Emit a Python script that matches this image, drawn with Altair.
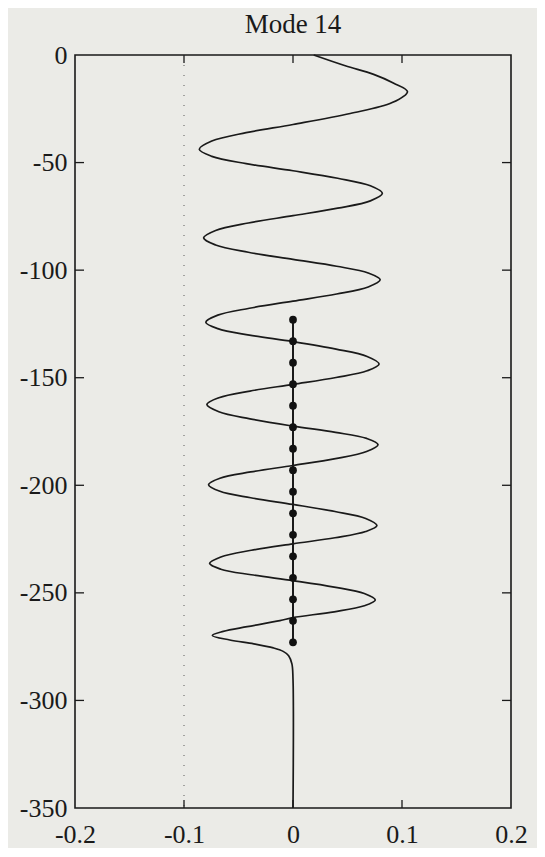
import altair as alt
import pandas as pd

# ---- data ----
title_text = "Mode 14"

curve_depth = [
    0.0, -5.0, -9.0, -13.0, -17.0,
    -22.1, -27.2, -32.3, -36.1, -40.0, -43.8,
    -47.1, -50.5, -53.8, -57.3, -60.8, -64.3,
    -67.8, -71.2, -74.7, -78.1, -81.6, -85.0,
    -88.3, -91.7, -95.0, -98.2, -101.3, -104.5,
    -107.8, -111.1, -114.4, -117.7, -120.9, -124.2,
    -127.2, -130.2, -133.2, -136.7, -140.1, -143.6,
    -146.8, -149.9, -153.1, -156.2, -159.3, -162.4,
    -165.8, -169.1, -172.5, -175.4, -178.2, -181.1,
    -184.3, -187.6, -190.8, -193.8, -196.7, -199.7,
    -202.8, -205.8, -208.9, -212.2, -215.4, -218.7,
    -221.5, -224.4, -227.2, -230.2, -233.3, -236.3,
    -239.0, -241.6, -244.3, -247.3, -250.3, -253.3,
    -256.0, -258.8, -261.5, -262.9, -265.7, -267.9, -269.8,
    -271.9, -273.7, -275.6, -277.2, -279.2, -283.0, -290.0, -350.0,
]
curve_value = [
    0.019, 0.048, 0.074, 0.092, 0.105,
    0.091, 0.0525, 0.0, -0.043, -0.0745, -0.086,
    -0.0745, -0.043, 0.0, 0.041, 0.071, 0.082,
    0.071, 0.041, 0.0, -0.041, -0.071, -0.082,
    -0.071, -0.041, 0.0, 0.040, 0.069, 0.080,
    0.069, 0.040, 0.0, -0.040, -0.069, -0.080,
    -0.069, -0.040, 0.0, 0.0395, 0.068, 0.079,
    0.068, 0.0395, 0.0, -0.0395, -0.068, -0.079,
    -0.068, -0.0395, 0.0, 0.039, 0.0675, 0.078,
    0.0675, 0.039, 0.0, -0.0388, -0.067, -0.0775,
    -0.067, -0.0388, 0.0, 0.0385, 0.0667, 0.077,
    0.0667, 0.0385, 0.0, -0.0383, -0.0662, -0.0765,
    -0.0662, -0.0383, 0.0, 0.0378, 0.0654, 0.0755,
    0.0654, 0.0378, 0.0, -0.012, -0.042, -0.064, -0.074,
    -0.058, -0.036, -0.018, -0.009, -0.004, -0.001, 0.0, 0.0,
]

dot_depth = [-123, -133, -143, -153, -163, -173, -183, -193,
             -203, -213, -223, -233, -243, -253, -263, -273]
dot_value = [0.0] * len(dot_depth)

ref_line_x = [-0.1]
x_ticks = [-0.2, -0.1, 0.0, 0.1, 0.2]
x_inner_ticks = [-0.1, 0.0, 0.1]
y_ticks = [0, -50, -100, -150, -200, -250, -300, -350]
y_inner_ticks = [-50, -100, -150, -200, -250, -300]

# ---- tables ----
curve_df = pd.DataFrame({"i": list(range(len(curve_depth))),
                         "depth": curve_depth, "value": curve_value})
dots_df = pd.DataFrame({"i": list(range(len(dot_depth))),
                        "depth": dot_depth, "value": dot_value})
ref_df = pd.DataFrame({"value": ref_line_x})
xt_df = pd.DataFrame({"value": x_inner_ticks})
yt_df = pd.DataFrame({"depth": y_inner_ticks})
title_df = pd.DataFrame({"t": [title_text]})

W, H = 436, 753
FONT = "Liberation Serif"
INK = "#1a1a1a"

xscale = alt.Scale(domain=[-0.2, 0.2], nice=False, zero=False)
yscale = alt.Scale(domain=[-350, 0], nice=False, zero=False)

x_axis = alt.Axis(values=x_ticks, title=None, grid=False, ticks=False, domain=False,
                  labelFont=FONT, labelFontSize=26, labelColor=INK,
                  labelPadding=13, labelFlush=False, labelOverlap=False,
                  labelExpr="toString(datum.value)")
y_axis = alt.Axis(values=y_ticks, title=None, grid=False, ticks=False, domain=False,
                  labelFont=FONT, labelFontSize=26, labelColor=INK,
                  labelPadding=8, labelFlush=False, labelOverlap=False,
                  labelExpr="toString(datum.value)")

ref = alt.Chart(ref_df).mark_rule(color="#666666", strokeWidth=1.1,
                                  strokeDash=[1, 9]).encode(
    x=alt.X("value:Q", scale=xscale, axis=x_axis),
    y=alt.value(0), y2=alt.value(H))

curve = alt.Chart(curve_df).mark_line(color=INK, strokeWidth=1.7,
                                      interpolate="catmull-rom").encode(
    x=alt.X("value:Q", scale=xscale, axis=x_axis),
    y=alt.Y("depth:Q", scale=yscale, axis=y_axis),
    order="i:Q")

dot_line = alt.Chart(dots_df).mark_line(color=INK, strokeWidth=2).encode(
    x=alt.X("value:Q", scale=xscale),
    y=alt.Y("depth:Q", scale=yscale),
    order="i:Q")

dots = alt.Chart(dots_df).mark_circle(color="#111111", opacity=1, size=60).encode(
    x=alt.X("value:Q", scale=xscale),
    y=alt.Y("depth:Q", scale=yscale))

tick_top = alt.Chart(xt_df).mark_rule(color=INK, strokeWidth=1.3).encode(
    x=alt.X("value:Q", scale=xscale), y=alt.value(0), y2=alt.value(8))
tick_bottom = alt.Chart(xt_df).mark_rule(color=INK, strokeWidth=1.3).encode(
    x=alt.X("value:Q", scale=xscale), y=alt.value(H), y2=alt.value(H - 8))
tick_left = alt.Chart(yt_df).mark_rule(color=INK, strokeWidth=1.3).encode(
    y=alt.Y("depth:Q", scale=yscale), x=alt.value(0), x2=alt.value(9))
tick_right = alt.Chart(yt_df).mark_rule(color=INK, strokeWidth=1.3).encode(
    y=alt.Y("depth:Q", scale=yscale), x=alt.value(W), x2=alt.value(W - 9))

title = alt.Chart(title_df).mark_text(font=FONT, fontSize=27, color=INK,
                                      baseline="alphabetic", align="center").encode(
    text="t:N", x=alt.value(W / 2), y=alt.value(-22))

chart = alt.layer(ref, curve, dot_line, dots, tick_top, tick_bottom,
                  tick_left, tick_right, title).properties(
    width=W, height=H,
    autosize=alt.AutoSizeParams(type="none"),
    padding={"left": 67, "top": 47, "right": 26, "bottom": 40},
    background="#ebebe7",
).configure_view(stroke=INK, strokeWidth=1.6)

chart.save("out.html", embed_options={"renderer": "svg", "actions": False})
